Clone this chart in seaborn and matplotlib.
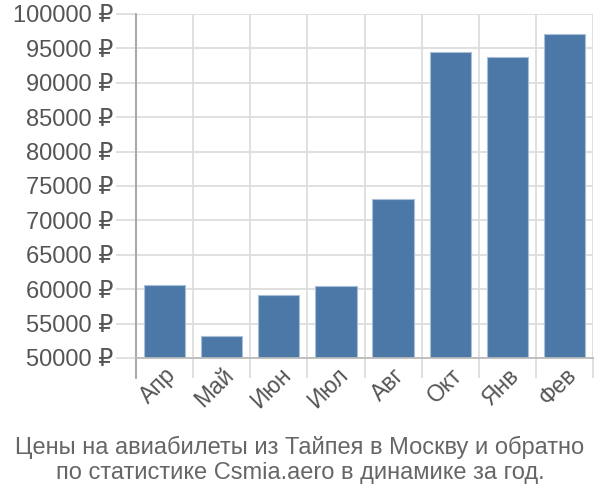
import matplotlib
matplotlib.use("Agg")
import matplotlib.pyplot as plt
import seaborn as sns
import pandas as pd
from matplotlib.ticker import FixedLocator, FuncFormatter

months = ["Апр", "Май", "Июн", "Июл", "Авг", "Окт", "Янв", "Фев"]
prices = [60600, 53150, 59150, 60450, 73100, 94500, 93700, 97150]
yticks = list(range(50000, 100001, 5000))
title = "Цены на авиабилеты из Тайпея в Москву и обратно\nпо статистике Csmia.aero в динамике за год."

sns.set_theme(style="white")
plt.rcParams['font.family'] = ['Liberation Sans', 'DejaVu Sans']

df = pd.DataFrame({"month": months, "price": prices})

fig = plt.figure(figsize=(6, 5), dpi=100)
ax = fig.add_axes([136/600, 1-358/500, (593-136)/600, (358-14)/500])

sns.barplot(data=df, x="month", y="price", ax=ax, color="#4c78a8",
            saturation=1, width=0.72, edgecolor="#a9bfd6", linewidth=0.8, zorder=3)

ax.set_ylim(50000, 100000)
ax.set_xlim(-0.5, len(months) - 0.5)
ax.yaxis.set_major_locator(FixedLocator(yticks))
ax.yaxis.set_major_formatter(FuncFormatter(lambda v, p: f"{int(v)} ₽"))
ax.set_xlabel("")
ax.set_ylabel("")

gridc = "#dddddd"
ax.grid(axis="y", color=gridc, linewidth=1.3, zorder=0)
ax.set_xticks([i - 0.5 for i in range(1, len(months) + 1)], minor=True)
ax.grid(axis="x", which="minor", color=gridc, linewidth=1.3, zorder=0)
ax.tick_params(axis="x", which="minor", bottom=True, length=14.5, width=1.3, color=gridc)
ax.tick_params(axis="x", which="major", bottom=False, length=0, pad=4, labelsize=16.5, labelcolor="#555555")
ax.tick_params(axis="y", left=True, length=14.5, width=1.3, color=gridc, pad=2, labelsize=17, labelcolor="#555555")

for lbl in ax.get_xticklabels():
    lbl.set_rotation(45)
    lbl.set_ha("right")
    lbl.set_rotation_mode("anchor")

for s in ["top", "right"]:
    ax.spines[s].set_visible(False)
ax.spines["bottom"].set_color("#bbbbbb")
ax.spines["bottom"].set_linewidth(1.3)
ax.spines["bottom"].set_zorder(4)
ax.spines["left"].set_visible(False)
ax.plot([-0.5, -0.5], [-20/344, 1], transform=ax.get_xaxis_transform(), color="#aaaaaa",
        linewidth=1.5, clip_on=False, zorder=4)

fig.text(0.5, 1 - 460/500, title, ha="center", va="center", fontsize=17,
         color="#666666", linespacing=1.2)

fig.savefig("out.png", dpi=100)
